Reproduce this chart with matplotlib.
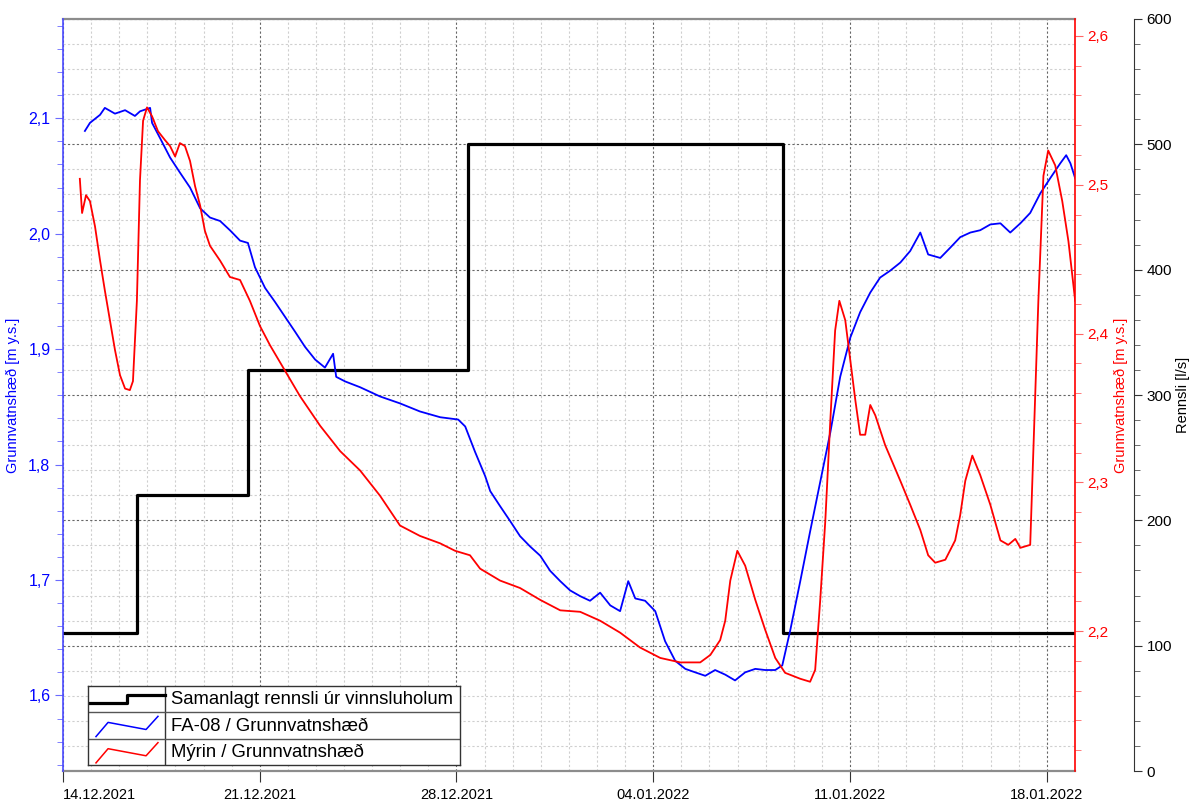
import numpy as np
import pandas as pd
import matplotlib
matplotlib.use("Agg")
import matplotlib.pyplot as plt
import matplotlib.dates as mdates
from matplotlib.ticker import MultipleLocator, FuncFormatter

plt.rcParams['font.family'] = ['Liberation Sans', 'DejaVu Sans']

# --- data (days after 14.12.2021 00:00) ---
start = pd.Timestamp('2021-12-14')
end_day = 36.0

# Samanlagt rennsli (l/s), step series
step_days = [0.0, 2.63, 6.58, 14.41, 25.62, 36.0]
step_vals = [110, 220, 320, 500, 110, 110]

# FA-08 groundwater level (m y.s.)
fa_days = [0.78, 0.96, 1.32, 1.49, 1.85, 2.21, 2.56, 2.74, 3.10, 3.17, 3.45, 3.81,
           4.16, 4.52, 4.88, 5.23, 5.59, 5.94, 6.30, 6.58, 6.83, 7.19, 7.54, 7.90,
           8.26, 8.61, 8.97, 9.32, 9.61, 9.72, 10.04, 10.57, 11.28, 11.99, 12.70,
           13.42, 14.06, 14.31, 14.66, 15.02, 15.20, 15.55, 15.91, 16.26, 16.62,
           16.98, 17.33, 17.69, 18.04, 18.40, 18.75, 19.11, 19.47, 19.82, 20.11,
           20.36, 20.71, 21.07, 21.42, 21.78, 22.14, 22.49, 22.85, 23.20, 23.56,
           23.91, 24.27, 24.63, 24.98, 25.34, 25.59, 25.87, 26.23, 26.58, 26.94,
           27.30, 27.65, 28.01, 28.36, 28.72, 29.07, 29.43, 29.79, 30.14, 30.50,
           30.78, 31.21, 31.57, 31.92, 32.28, 32.63, 32.99, 33.35, 33.70, 34.06,
           34.41, 34.77, 35.12, 35.48, 35.69, 35.84, 36.01]
fa_vals = [2.089, 2.096, 2.103, 2.109, 2.104, 2.107, 2.102, 2.106, 2.109, 2.096, 2.083, 2.066,
           2.053, 2.040, 2.022, 2.014, 2.011, 2.003, 1.994, 1.992, 1.971, 1.953, 1.941, 1.928,
           1.915, 1.902, 1.891, 1.884, 1.896, 1.876, 1.872, 1.867, 1.859, 1.853, 1.846,
           1.841, 1.839, 1.833, 1.811, 1.790, 1.777, 1.764, 1.751, 1.738, 1.729,
           1.721, 1.708, 1.699, 1.691, 1.686, 1.682, 1.689, 1.678, 1.673, 1.699,
           1.684, 1.682, 1.673, 1.647, 1.630, 1.623, 1.620, 1.617, 1.622, 1.618,
           1.613, 1.620, 1.623, 1.622, 1.622, 1.626, 1.656, 1.699, 1.742, 1.785,
           1.828, 1.876, 1.910, 1.932, 1.949, 1.962, 1.968, 1.975, 1.985, 2.001,
           1.982, 1.979, 1.988, 1.997, 2.001, 2.003, 2.008, 2.009, 2.001, 2.009,
           2.018, 2.035, 2.048, 2.061, 2.068, 2.061, 2.048]

# Mýrin groundwater level (m y.s.)
my_days = [0.60, 0.68, 0.82, 0.96, 1.14, 1.32, 1.49, 1.67, 1.85, 2.03, 2.21, 2.38,
           2.49, 2.63, 2.74, 2.85, 2.99, 3.17, 3.38, 3.63, 3.81, 3.99, 4.16, 4.34,
           4.52, 4.70, 4.88, 5.05, 5.23, 5.59, 5.94, 6.30, 6.65, 7.01, 7.37, 7.90,
           8.43, 9.15, 9.86, 10.57, 11.28, 11.99, 12.70, 13.42, 13.95, 14.48, 14.84,
           15.55, 16.26, 16.98, 17.69, 18.40, 19.11, 19.82, 20.53, 21.25, 21.96,
           22.67, 23.03, 23.38, 23.56, 23.74, 23.99, 24.27, 24.63, 24.98, 25.34,
           25.69, 26.23, 26.58, 26.76, 26.94, 27.12, 27.30, 27.47, 27.62, 27.83,
           28.01, 28.19, 28.36, 28.54, 28.72, 28.90, 29.25, 29.79, 30.14, 30.50,
           30.78, 31.03, 31.39, 31.74, 31.92, 32.10, 32.35, 32.63, 32.99, 33.35,
           33.63, 33.88, 34.06, 34.41, 34.70, 34.88, 35.05, 35.30, 35.55, 35.77, 36.01]
my_vals = [2.504, 2.481, 2.493, 2.489, 2.472, 2.449, 2.429, 2.409, 2.389, 2.372, 2.363, 2.362,
           2.368, 2.422, 2.503, 2.543, 2.552, 2.546, 2.536, 2.530, 2.526, 2.519, 2.528, 2.526,
           2.516, 2.499, 2.486, 2.469, 2.459, 2.449, 2.438, 2.436, 2.422, 2.405, 2.392, 2.375,
           2.358, 2.338, 2.321, 2.308, 2.291, 2.271, 2.264, 2.259, 2.254, 2.251, 2.242,
           2.234, 2.229, 2.221, 2.214, 2.213, 2.207, 2.199, 2.189, 2.182, 2.179,
           2.179, 2.184, 2.194, 2.207, 2.234, 2.254, 2.244, 2.221, 2.201, 2.182,
           2.172, 2.168, 2.166, 2.174, 2.221, 2.274, 2.342, 2.402, 2.422, 2.409,
           2.382, 2.355, 2.332, 2.332, 2.352, 2.345, 2.325, 2.301, 2.285, 2.268,
           2.251, 2.246, 2.248, 2.261, 2.278, 2.301, 2.318, 2.305, 2.285, 2.261,
           2.258, 2.262, 2.256, 2.258, 2.422, 2.506, 2.523, 2.513, 2.489, 2.462, 2.422]

legend_labels = ['Samanlagt rennsli úr vinnsluholum',
                 'FA-08 / Grunnvatnshæð',
                 'Mýrin / Grunnvatnshæð']


def to_dates(days):
    return start + pd.to_timedelta(np.asarray(days), unit='D')


def comma(x, pos):
    return ('%.1f' % x).replace('.', ',')


BLUE = '#0000ff'
RED = '#ff0000'

fig = plt.figure(figsize=(11.97, 8.05), dpi=100)
rect = [0.0526, 0.0422, 0.8454, 0.9342]

# rennsli axis (grid, step line, x axis)
ax_q = fig.add_axes(rect)
ax_b = fig.add_axes(rect, sharex=ax_q)
ax_r = fig.add_axes(rect, sharex=ax_q)
for a in (ax_b, ax_r):
    a.patch.set_visible(False)

ax_q.step(to_dates(step_days), step_vals, where='post', color='black', lw=2.3, zorder=3)
ax_q.set_ylim(0, 600)
ax_q.yaxis.set_major_locator(MultipleLocator(100))
ax_q.yaxis.set_minor_locator(MultipleLocator(20))
ax_q.yaxis.tick_right()
ax_q.yaxis.set_label_position('right')
ax_q.spines['right'].set_position(('axes', 1.0583))
ax_q.spines['left'].set_visible(False)
ax_q.spines['top'].set_color('#8c8c8c')
ax_q.spines['top'].set_linewidth(1.6)
ax_q.spines['bottom'].set_color('#8c8c8c')
ax_q.spines['bottom'].set_linewidth(1.6)
ax_q.spines['right'].set_color('#333333')
ax_q.tick_params(axis='y', which='major', length=6, colors='#333333', labelcolor='black',
                 labelsize=11, pad=3)
ax_q.tick_params(axis='y', which='minor', length=4, colors='#555555')
ax_q.set_ylabel('Rennsli [l/s]', fontsize=10.5, color='black', labelpad=3)

ax_q.set_xlim(start, start + pd.Timedelta(days=end_day))
ax_q.set_xticks(pd.date_range(start, periods=6, freq='7D'))
ax_q.xaxis.set_minor_locator(mdates.DayLocator())
ax_q.xaxis.set_major_formatter(mdates.DateFormatter('%d.%m.%Y'))
ax_q.tick_params(axis='x', which='major', length=8, color='#333333', labelsize=10.5, pad=4)
ax_q.tick_params(axis='x', which='minor', length=0)
ax_q.get_xticklabels()[0].set_horizontalalignment('left')

ax_q.grid(which='major', color='#666666', linestyle=(0, (2, 2)), lw=0.8)
ax_q.grid(which='minor', color='#cfcfcf', linestyle=(0, (2, 2)), lw=0.8)

# FA-08 on left axis
ax_b.plot(to_dates(fa_days), fa_vals, color=BLUE, lw=1.3)
ax_b.set_ylim(1.5345, 2.186)
ax_b.yaxis.set_major_locator(MultipleLocator(0.1))
ax_b.yaxis.set_minor_locator(MultipleLocator(0.02))
ax_b.yaxis.set_major_formatter(FuncFormatter(comma))
for s in ('top', 'bottom', 'right'):
    ax_b.spines[s].set_visible(False)
ax_b.spines['left'].set_color('#4a4aff')
ax_b.spines['left'].set_linewidth(1.2)
ax_b.tick_params(axis='y', which='major', length=6, colors='#6a6aff', labelcolor=BLUE,
                 labelsize=11.5, pad=3)
ax_b.tick_params(axis='y', which='minor', length=4, colors='#6a6aff')
ax_b.set_ylabel('Grunnvatnshæð [m y.s.]', fontsize=10.5, color=BLUE, labelpad=6)
ax_b.tick_params(axis='x', which='both', bottom=False, labelbottom=False)

# Mýrin on right (red) axis
ax_r.plot(to_dates(my_days), my_vals, color=RED, lw=1.3)
ax_r.set_ylim(2.106, 2.6114)
ax_r.yaxis.set_major_locator(MultipleLocator(0.1))
ax_r.yaxis.set_minor_locator(MultipleLocator(0.02))
ax_r.yaxis.set_major_formatter(FuncFormatter(comma))
ax_r.yaxis.tick_right()
ax_r.yaxis.set_label_position('right')
for s in ('top', 'bottom', 'left'):
    ax_r.spines[s].set_visible(False)
ax_r.spines['right'].set_color(RED)
ax_r.spines['right'].set_linewidth(1.2)
ax_r.tick_params(axis='y', which='major', length=6, colors='#ff6666', labelcolor=RED,
                 labelsize=11, pad=3)
ax_r.tick_params(axis='y', which='minor', length=4, colors='#ff6666')
ax_r.set_ylabel('Grunnvatnshæð [m y.s.]', fontsize=10.5, color=RED, labelpad=4)
ax_r.tick_params(axis='x', which='both', bottom=False, labelbottom=False)

# table-like legend
lax = fig.add_axes([0.0735, 0.0497, 0.311, 0.098])
lax.set_xlim(0, 1)
lax.set_ylim(3, 0)
lax.set_xticks([])
lax.set_yticks([])
for s in lax.spines.values():
    s.set_color('#333333')
    s.set_linewidth(1.0)
lax.axvline(0.207, color='#333333', lw=1.0)
for r in (1, 2):
    lax.axhline(r, color='#555555', lw=1.0)
lax.plot([0.0, 0.105, 0.105, 0.207], [0.65, 0.65, 0.35, 0.35], color='black', lw=2.3)
zx = [0.0215, 0.054, 0.156, 0.188]
zy = [0.92, 0.38, 0.65, 0.15]
lax.plot(zx, [1 + v for v in zy], color=BLUE, lw=1.1)
lax.plot(zx, [2 + v for v in zy], color=RED, lw=1.1)
for i, lab in enumerate(legend_labels):
    lax.text(0.222, i + 0.52, lab, fontsize=13.3, va='center', ha='left', color='black')

fig.savefig('out.png', dpi=100)
